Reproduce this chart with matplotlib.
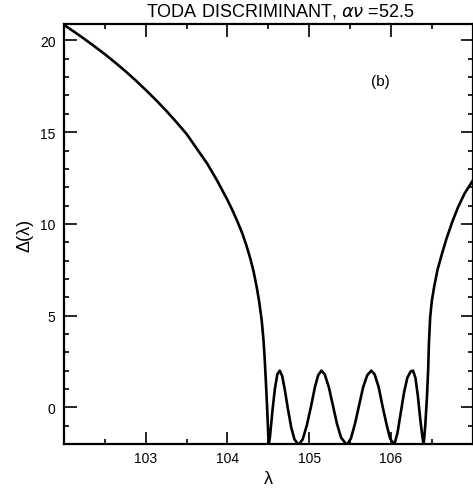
import matplotlib
matplotlib.use("Agg")
import matplotlib.pyplot as plt
from matplotlib.ticker import MultipleLocator

# values
lam = [
    102.00, 102.125, 102.25, 102.375, 102.50, 102.625, 102.75, 102.875, 103.00,
    103.125, 103.25, 103.375, 103.50, 103.625, 103.75, 103.875, 104.00, 104.06,
    104.12, 104.18, 104.23, 104.28, 104.32, 104.36, 104.39, 104.42, 104.44,
    104.455, 104.47, 104.485, 104.495, 104.505,
    104.52, 104.55, 104.58, 104.61, 104.64, 104.67, 104.70, 104.74, 104.78, 104.82, 104.87,
    104.92, 104.97, 105.02, 105.07, 105.11, 105.15, 105.19, 105.24, 105.29, 105.34, 105.39, 105.46,
    105.51, 105.56, 105.61, 105.66, 105.71, 105.76, 105.80, 105.85, 105.90, 105.95, 105.99, 106.04,
    106.08, 106.12, 106.16, 106.20, 106.24, 106.27, 106.30, 106.33, 106.36, 106.385, 106.40,
    106.42, 106.44, 106.455, 106.465, 106.48, 106.50, 106.53, 106.57, 106.62, 106.68, 106.75,
    106.82, 106.90, 107.00,
]
delta = [
    20.85, 20.47, 20.08, 19.67, 19.25, 18.80, 18.33, 17.83, 17.30,
    16.75, 16.17, 15.55, 14.90, 14.10, 13.30, 12.35, 11.30, 10.75,
    10.15, 9.50, 8.85, 8.10, 7.40, 6.50, 5.70, 4.70, 3.70,
    2.70, 1.40, 0.00, -1.10, -2.05,
    -1.60, -0.20, 1.00, 1.80, 2.00, 1.70, 1.00, -0.10, -1.10, -1.75, -2.05,
    -1.75, -1.00, 0.00, 1.10, 1.75, 2.00, 1.80, 1.10, 0.10, -0.90, -1.65, -2.05,
    -1.70, -0.90, 0.10, 1.10, 1.75, 2.00, 1.80, 1.10, 0.00, -1.00, -1.70, -2.05,
    -1.40, -0.30, 0.80, 1.60, 1.95, 2.00, 1.60, 0.60, -0.70, -1.60, -2.05,
    -1.00, 0.50, 2.00, 3.50, 4.90, 5.80, 6.60, 7.50, 8.30, 9.20, 10.10,
    10.90, 11.65, 12.35,
]
x_ticks = [103, 104, 105, 106]
y_ticks = [0, 5, 10, 15, 20]

plt.rcParams['font.family'] = ['Liberation Sans', 'DejaVu Sans']

fig = plt.figure(figsize=(4.73, 4.89), dpi=100)
ax = fig.add_axes([0.1353, 0.090, 0.864, 0.859])

ax.plot(lam, delta, color='black', linewidth=1.9)

ax.set_xlim(102, 107)
ax.set_ylim(-2, 20.9)
ax.set_xticks(x_ticks)
ax.set_yticks(y_ticks)
ax.xaxis.set_minor_locator(MultipleLocator(0.5))
ax.yaxis.set_minor_locator(MultipleLocator(1))
ax.tick_params(which='both', direction='in', top=True, right=True,
               width=1.2, labelsize=10)
ax.tick_params(which='major', length=9)
ax.tick_params(which='minor', length=3.5)
ax.tick_params(axis='y', pad=6)
ax.tick_params(axis='x', pad=5)
for s in ax.spines.values():
    s.set_linewidth(1.6)

ax.set_ylabel('Δ(λ)', fontsize=13, labelpad=5)
ax.set_xlabel('λ', fontsize=13, labelpad=4)
ax.text(105.87, 17.8, '(b)', fontsize=11, ha='center', va='center')

fig.text(0.592, 0.976, r'TODA DISCRIMINANT, $\alpha\nu$ =52.5',
         fontsize=13, ha='center', va='center')

fig.savefig('out.png', dpi=100)
